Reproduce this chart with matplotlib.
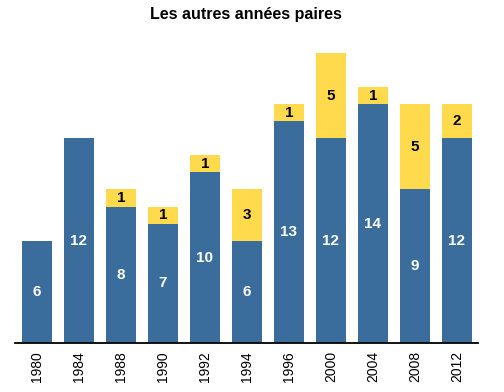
import matplotlib.pyplot as plt

years = ["1980", "1984", "1988", "1990", "1992", "1994", "1996", "2000", "2004", "2008", "2012"]
blue_vals = [6, 12, 8, 7, 10, 6, 13, 12, 14, 9, 12]
yellow_vals = [0, 0, 1, 1, 1, 3, 1, 5, 1, 5, 2]

BLUE = "#3a6d9b"
YELLOW = "#ffda4d"

def main():
    plt.rcParams['font.family'] = ['Liberation Sans', 'DejaVu Sans']
    fig = plt.figure(figsize=(5.04, 3.92), dpi=100)
    ax = fig.add_axes([15 / 504, 1 - 343 / 392, 463 / 504, 290 / 392])

    x = list(range(len(years)))
    ax.bar(x, blue_vals, width=0.714, color=BLUE)
    ax.bar(x, yellow_vals, width=0.714, bottom=blue_vals, color=YELLOW)

    # value labels in the middle of each segment
    for i in x:
        ax.text(i, blue_vals[i] / 2, str(blue_vals[i]), ha='center', va='center',
                color='white', fontsize=11, fontweight='bold')
        if yellow_vals[i] > 0:
            ax.text(i, blue_vals[i] + yellow_vals[i] / 2, str(yellow_vals[i]),
                    ha='center', va='center', color='black', fontsize=11, fontweight='bold')

    ax.set_xlim(-0.52, 10.5)
    ax.set_ylim(0, 17)
    ax.set_xticks(x)
    ax.set_xticklabels(years, rotation=90, fontsize=10)
    ax.tick_params(axis='x', length=0, pad=6)
    ax.set_yticks([])
    for side in ['top', 'left', 'right']:
        ax.spines[side].set_visible(False)
    ax.spines['bottom'].set_linewidth(1.3)

    fig.text(246 / 504, 1 - 14 / 392, "Les autres années paires", ha='center', va='center',
             fontsize=11.5, fontweight='bold')

    fig.savefig("out.png", dpi=100)

if __name__ == "__main__":
    main()
